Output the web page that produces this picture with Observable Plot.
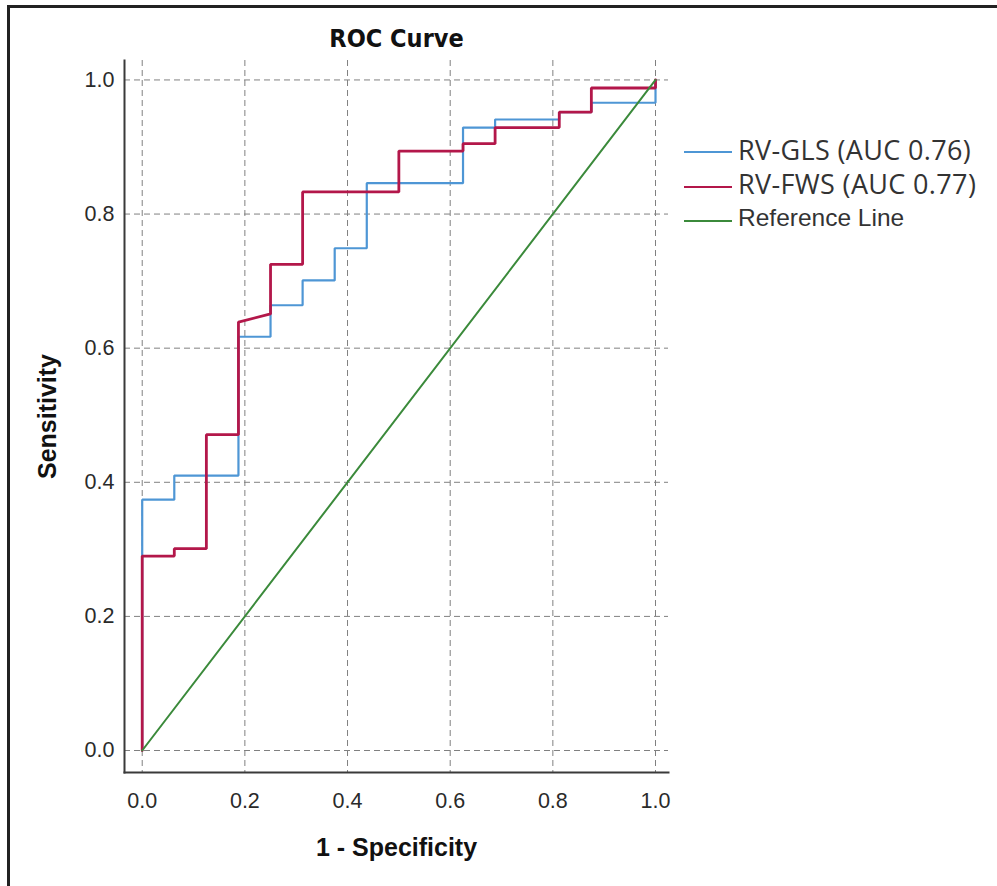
<!DOCTYPE html>
<html>
<head>
<meta charset="utf-8">
<script src="https://cdn.jsdelivr.net/npm/d3@7"></script>
<script src="https://cdn.jsdelivr.net/npm/@observablehq/plot@0.6"></script>
<style>
  html, body { margin: 0; padding: 0; background: #fff; }
  #wrap { position: relative; width: 997px; height: 886px; overflow: hidden; background: #fff; }
  #border { position: absolute; left: 7px; top: 5px; right: -10px; bottom: -10px;
            border-top: 3px solid #222; border-left: 3px solid #222; }
  #chart { position: absolute; left: 0; top: 0; }
  #legend { position: absolute; left: 684px; top: 132px; color: #333; }
  .row { display: flex; align-items: center; height: 34.5px; }
  .sw { width: 48px; margin-right: 6px; margin-top: 6px; }
  .lt { font-family: "Open Sans", "Noto Sans", sans-serif; font-size: 27px; letter-spacing: 0.35px; white-space: nowrap; }
  .lt.ref { font-family: "Liberation Sans", Arial, sans-serif; font-size: 24.5px; letter-spacing: 0; }
</style>
</head>
<body>
<div id="wrap">
  <div id="border"></div>
  <div id="chart"></div>
  <div id="legend"></div>
</div>
<script>
// ---- data ----
const title = "ROC Curve";
const xLabel = "1 - Specificity";
const yLabel = "Sensitivity";
const tickValues = [0, 0.2, 0.4, 0.6, 0.8, 1.0];

const seriesNames = ["RV-GLS (AUC 0.76)", "RV-FWS (AUC 0.77)", "Reference Line"];
const seriesColors = ["#4e96d5", "#b3174a", "#3b8a3b"];

// RV-GLS curve vertices (1 - specificity, sensitivity)
const glsFpr = [0, 0, 0.0625, 0.0625, 0.1875, 0.1875, 0.25, 0.25, 0.3125, 0.3125, 0.375, 0.375, 0.4375, 0.4375, 0.625, 0.625, 0.6875, 0.6875, 0.8125, 0.8125, 0.875, 0.875, 1, 1];
const glsTpr = [0, 0.374, 0.374, 0.410, 0.410, 0.617, 0.617, 0.664, 0.664, 0.701, 0.701, 0.749, 0.749, 0.846, 0.846, 0.929, 0.929, 0.941, 0.941, 0.952, 0.952, 0.966, 0.966, 1];

// RV-FWS curve vertices
const fwsFpr = [0, 0, 0.0625, 0.0625, 0.125, 0.125, 0.1875, 0.1875, 0.25, 0.25, 0.3125, 0.3125, 0.5, 0.5, 0.625, 0.625, 0.6875, 0.6875, 0.8125, 0.8125, 0.875, 0.875, 1, 1];
const fwsTpr = [0, 0.290, 0.290, 0.301, 0.301, 0.471, 0.471, 0.639, 0.651, 0.725, 0.725, 0.833, 0.833, 0.894, 0.894, 0.905, 0.905, 0.929, 0.929, 0.952, 0.952, 0.988, 0.988, 1];

// Reference line
const refFpr = [0, 1];
const refTpr = [0, 1];

// ---- build tables ----
const toRows = (xs, ys) => xs.map((x, i) => ({fpr: x, tpr: ys[i]}));
const gls = toRows(glsFpr, glsTpr);
const fws = toRows(fwsFpr, fwsTpr);
const ref = toRows(refFpr, refTpr);

const gridStyle = {stroke: "#808080", strokeOpacity: 1, strokeWidth: 1, strokeDasharray: "6,4"};
const boldFont = "'Liberation Sans', Arial, sans-serif";

const chart = Plot.plot({
  width: 997,
  height: 886,
  marginLeft: 124,
  marginRight: 329,
  marginTop: 60,
  marginBottom: 114,
  style: {fontFamily: "'Liberation Sans', Arial, sans-serif", fontSize: "21px", color: "#2a2a2a", background: "transparent", overflow: "visible"},
  x: {domain: [-0.0345, 1.0253]},
  y: {domain: [-0.0328, 1.029]},
  marks: [
    Plot.gridX(tickValues, gridStyle),
    Plot.gridY(tickValues, gridStyle),
    Plot.axisX(tickValues, {tickSize: 0, tickPadding: 20, tickFormat: d3.format(".1f"), label: null, fill: "#2a2a2a", fontSize: 21.5}),
    Plot.axisY(tickValues, {tickSize: 0, tickPadding: 10, tickFormat: d3.format(".1f"), label: null, fill: "#2a2a2a", fontSize: 21.5}),
    Plot.frame({anchor: "left", stroke: "#3a3a3a", strokeWidth: 2}),
    Plot.frame({anchor: "bottom", stroke: "#3a3a3a", strokeWidth: 2}),
    Plot.line(gls, {x: "fpr", y: "tpr", stroke: seriesColors[0], strokeWidth: 2.2, strokeLinejoin: "miter"}),
    Plot.line(fws, {x: "fpr", y: "tpr", stroke: seriesColors[1], strokeWidth: 2.8, strokeLinejoin: "miter"}),
    Plot.line(ref, {x: "fpr", y: "tpr", stroke: seriesColors[2], strokeWidth: 2}),
    Plot.text([title], {text: d => d, frameAnchor: "top", lineAnchor: "middle", dy: -22, fontSize: 25, fontWeight: "bold", fill: "#111",
      fontFamily: "'Liberation Sans Narrow', 'DejaVu Sans Condensed', 'Roboto Condensed', 'Liberation Sans', sans-serif"}),
    Plot.text([xLabel], {text: d => d, frameAnchor: "bottom", lineAnchor: "middle", dy: 75, fontSize: 25, fontWeight: "bold", fill: "#111", fontFamily: boldFont}),
    Plot.text([yLabel], {text: d => d, frameAnchor: "left", textAnchor: "middle", lineAnchor: "middle", dx: -77, rotate: -90, fontSize: 25, fontWeight: "bold", fill: "#111", fontFamily: boldFont})
  ]
});
document.getElementById("chart").appendChild(chart);

// ---- legend ----
const legend = document.getElementById("legend");
const swatchWidths = [2, 2.5, 2];
seriesNames.forEach((name, i) => {
  const row = document.createElement("div");
  row.className = "row";
  const sw = document.createElement("div");
  sw.className = "sw";
  sw.style.borderTop = `${swatchWidths[i]}px solid ${seriesColors[i]}`;
  const lt = document.createElement("span");
  lt.className = "lt" + (i === 2 ? " ref" : "");
  lt.textContent = name;
  row.appendChild(sw);
  row.appendChild(lt);
  legend.appendChild(row);
});
</script>
</body>
</html>
